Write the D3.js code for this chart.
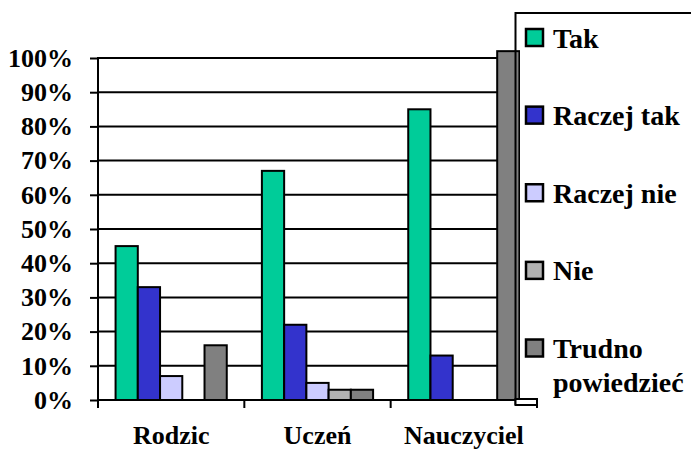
<!DOCTYPE html>
<html><head><meta charset="utf-8"><script src="https://cdn.jsdelivr.net/npm/d3@7"></script>
<style>
svg text, svg tspan { font-family: "Liberation Serif", "Times New Roman", serif !important; font-weight: bold !important; }
</style>
</head>
<body style="margin:0">
<svg id="s" width="691" height="450"></svg>
<script>
const categories = ["Rodzic", "Uczeń", "Nauczyciel"];
const seriesNames = ["Tak", "Raczej tak", "Raczej nie", "Nie", "Trudno powiedzieć"];
const tak = [45, 67, 85];
const raczejTak = [33, 22, 13];
const raczejNie = [7, 5, 0];
const nie = [0, 3, 0];
const trudno = [16, 3, 102];
const yTicks = [0, 10, 20, 30, 40, 50, 60, 70, 80, 90, 100];
const colors = ["#00CC99", "#3333CC", "#CCCCFF", "#B2B2B2", "#808080"];

const seriesValues = [tak, raczejTak, raczejNie, nie, trudno];
const FONT = "Liberation Serif";

const svg = d3.select("#s");
const mLeft = 98, mRight = 537, mTop = 58, mBottom = 400;

const y = d3.scaleLinear().domain([0, 100]).range([mBottom, mTop]);
const x0 = d3.scaleBand().domain(categories).range([mLeft, mRight]).padding(0);
const x1 = d3.scaleBand().domain(seriesNames).range([0, x0.bandwidth()]).paddingInner(0).paddingOuter(0.79);
const color = d3.scaleOrdinal().domain(seriesNames).range(colors);

// gridlines
svg.append("g").selectAll("line").data(yTicks.filter(d => d > 0)).join("line")
  .attr("x1", mLeft).attr("x2", mRight)
  .attr("y1", d => y(d)).attr("y2", d => y(d))
  .attr("stroke", "#000").attr("stroke-width", 2);

// bars
const rows = [];
categories.forEach((c, i) => {
  seriesNames.forEach((s, j) => {
    rows.push({cat: c, ser: s, v: seriesValues[j][i]});
  });
});
svg.append("g").selectAll("rect").data(rows.filter(d => d.v > 0)).join("rect")
  .attr("x", d => x0(d.cat) + x1(d.ser))
  .attr("y", d => y(d.v))
  .attr("width", x1.bandwidth())
  .attr("height", d => y(0) - y(d.v))
  .attr("fill", d => color(d.ser))
  .attr("stroke", "#000").attr("stroke-width", 2);

// y axis
const yAxis = d3.axisLeft(y).tickValues(yTicks).tickFormat(d => d + "%").tickSize(8).tickPadding(17);
const gy = svg.append("g").attr("transform", `translate(${mLeft},0)`).call(yAxis);
gy.attr("font-family", null).attr("font-size", null);
gy.select(".domain").remove();
gy.selectAll(".tick line").attr("stroke", "#000").attr("stroke-width", 2);
gy.selectAll(".tick text").attr("fill", "#000").attr("font-size", 26).attr("font-weight", "bold").style("font-family", FONT);
svg.append("line").attr("x1", mLeft).attr("x2", mLeft).attr("y1", mTop - 1).attr("y2", mBottom + 8)
  .attr("stroke", "#000").attr("stroke-width", 2);

// x axis
svg.append("line").attr("x1", mLeft).attr("x2", mRight).attr("y1", mBottom).attr("y2", mBottom)
  .attr("stroke", "#000").attr("stroke-width", 2);
const bounds = categories.map(c => x0(c)).concat([x0(categories[categories.length - 1]) + x0.bandwidth()]);
svg.append("g").selectAll("line").data(bounds).join("line")
  .attr("x1", d => d).attr("x2", d => d).attr("y1", mBottom).attr("y2", mBottom + 8)
  .attr("stroke", "#000").attr("stroke-width", 2);
svg.append("g").selectAll("text").data(categories).join("text")
  .attr("x", d => x0(d) + x0.bandwidth() / 2)
  .attr("y", 444)
  .attr("text-anchor", "middle")
  .attr("font-size", 26).attr("font-weight", "bold").style("font-family", FONT)
  .text(d => d);

// legend
const lg = svg.append("g");
lg.append("rect").attr("x", 520).attr("y", 13).attr("width", 200).attr("height", 392).attr("fill", "#fff");
lg.append("path").attr("d", "M515.5,405 L515.5,13 L700,13").attr("fill", "none").attr("stroke", "#000").attr("stroke-width", 2);
lg.append("rect").attr("x", 515.5).attr("y", 399).attr("width", 21.5).attr("height", 6)
  .attr("fill", "#fff").attr("stroke", "#000").attr("stroke-width", 2);
lg.append("line").attr("x1", mRight).attr("x2", mRight).attr("y1", 399).attr("y2", 408)
  .attr("stroke", "#000").attr("stroke-width", 2);

const legendY = d3.scalePoint().domain(seriesNames).range([37.5, 348]);
const items = lg.selectAll("g.item").data(seriesNames).join("g").attr("class", "item")
  .attr("transform", d => `translate(0,${legendY(d)})`);
items.append("rect").attr("x", 526).attr("y", -8.5).attr("width", 17).attr("height", 17)
  .attr("fill", d => color(d)).attr("stroke", "#000").attr("stroke-width", 2.5);
items.append("text").attr("x", 553).attr("y", 10)
  .attr("font-size", 28).attr("font-weight", "bold").style("font-family", FONT)
  .each(function(d) {
    const parts = d === "Trudno powiedzieć" ? ["Trudno", "powiedzieć"] : [d];
    d3.select(this).selectAll("tspan").data(parts).join("tspan")
      .attr("x", 553).attr("dy", (p, i) => i === 0 ? 0 : 34).text(p => p);
  });
</script>
</body>
</html>
